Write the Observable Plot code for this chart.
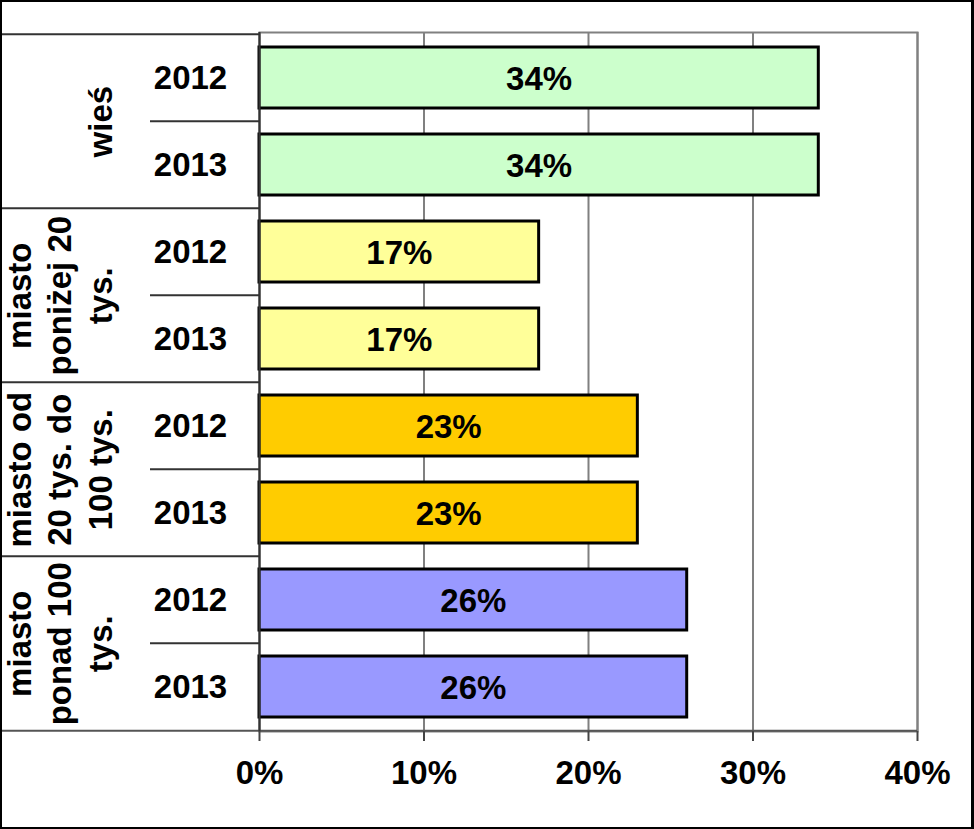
<!DOCTYPE html>
<html><head><meta charset="utf-8">
<script src="https://cdn.jsdelivr.net/npm/d3@7"></script>
<script src="https://cdn.jsdelivr.net/npm/@observablehq/plot@0.6"></script>
<style>
body{margin:0;background:#fff}
#frame{width:974px;height:829px;box-sizing:border-box;border:2px solid #000;border-right-width:3px;overflow:hidden;background:#fff}
</style></head><body><div id="frame"></div>
<script>
const groups = ["wieś", "miasto poniżej 20 tys.", "miasto od 20 tys. do 100 tys.", "miasto ponad 100 tys."];
const groupLabels = ["wieś", "miasto\nponiżej 20\ntys.", "miasto od\n20 tys. do\n100 tys.", "miasto\nponad 100\ntys."];
const years = ["2012", "2013"];
const values2012 = [34, 17, 23, 26];
const values2013 = [34, 17, 23, 26];
const groupColors = ["#CCFFCC", "#FFFF99", "#FFCC00", "#9999FF"];
const xTicks = [0, 10, 20, 30, 40];

const W = 969, H = 825, mL = 257, mT = 30, mR = 54, mB = 96;
const step = (H - mT - mB) / (groups.length * years.length);

const rows = [];
groups.forEach((g, gi) => {
  years.forEach((y) => {
    rows.push({key: g + "|" + y, group: g, year: y,
      value: y === "2012" ? values2012[gi] : values2013[gi], color: groupColors[gi]});
  });
});
const groupRows = groups.map((g, gi) => ({group: g, label: groupLabels[gi], first: g + "|" + years[0], last: g + "|" + years[years.length - 1]}));
const lineColor = "#333";

const chart = Plot.plot({
  width: W, height: H,
  marginLeft: mL, marginTop: mT, marginRight: mR, marginBottom: mB,
  style: {fontFamily: "'Liberation Sans', Arial, sans-serif", fontSize: "33px", fontWeight: "bold", color: "#000", background: "#fff"},
  x: {domain: [0, 40], axis: null, label: null},
  y: {type: "band", domain: rows.map(d => d.key), padding: 0, axis: null},
  marks: [
    Plot.gridX(xTicks, {stroke: "#808080", strokeOpacity: 1, strokeWidth: 2}),
    Plot.frame({stroke: "#808080", strokeWidth: 2}),
    Plot.barX(rows, {y: "key", x: "value", fill: "color", stroke: "#000", strokeWidth: 3, insetTop: 13, insetBottom: 13}),
    Plot.text(rows, {y: "key", x: d => d.value / 2, text: d => d.value + "%", fill: "#000", dy: 1}),
    Plot.text(rows, {y: "key", text: "year", frameAnchor: "left", textAnchor: "middle", dx: -69, fill: "#000"}),
    Plot.text(groupRows, {y: "first", dy: step / 2, text: "label", rotate: -90, frameAnchor: "left", textAnchor: "middle", dx: -148, lineAnchor: "bottom", lineHeight: 1.22, fill: "#000"}),
    Plot.ruleY(rows.filter(d => d.year === years[1]), {y: "key", dy: -step / 2, x1: 0, x2: 0, insetLeft: -109, stroke: lineColor, strokeWidth: 2}),
    Plot.ruleY(groupRows, {y: "first", dy: -step / 2, x1: 0, x2: 0, insetLeft: -mL, stroke: lineColor, strokeWidth: 2}),
    Plot.ruleY(groupRows.slice(-1), {y: "last", dy: step / 2, insetLeft: -mL, stroke: "#555", strokeWidth: 2}),
    Plot.ruleX([0], {stroke: lineColor, strokeWidth: 2}),
    Plot.axisX(xTicks, {label: null, tickFormat: d => d + "%", tickSize: 10, tickPadding: 19, stroke: "#444", strokeWidth: 2, fill: "#000", fontSize: 33, fontWeight: "bold"})
  ]
});
document.getElementById("frame").appendChild(chart);
</script></body></html>
